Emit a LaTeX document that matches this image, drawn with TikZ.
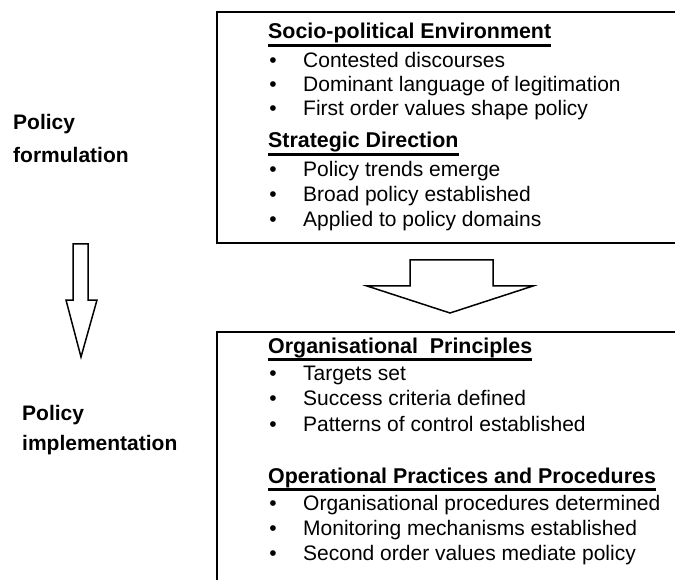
\documentclass[tikz,border=0pt]{standalone}
\usepackage{fontspec}
\setmainfont{Liberation Sans}
\begin{document}
\begin{tikzpicture}[x=1pt,y=-1pt,
  txt/.style={anchor=base west,inner sep=0pt,font=\fontsize{21}{25}\selectfont},
  head/.style={anchor=base west,inner sep=0pt,font=\fontsize{21.4}{25}\selectfont\bfseries},
  bul/.style={anchor=base,inner sep=0pt,font=\fontsize{21}{25}\selectfont},
  side/.style={anchor=base west,inner sep=0pt,font=\fontsize{21}{25}\selectfont\bfseries},
  frame/.style={draw=black,line width=1.8pt},
  uline/.style={line width=3.6pt},
  blockarrow/.style={draw=black,line width=1.5pt,fill=white,line join=miter}]
\useasboundingbox (0,0) rectangle (675,580);

% frames (they run past the right edge)
\draw[frame] (690,12) -- (217,12) -- (217,243) -- (690,243);
\draw[frame] (690,332) -- (217,332) -- (217,600);

% upper frame: policy formulation content
\node[head] (h1) at (268,39) {Socio-political Environment};
\draw[uline] ([yshift=-6.5pt]h1.base west) -- ([yshift=-6.5pt]h1.base east);
\node[bul] (b1) at (273,68) {•};  \node[txt] (t1) at (303,68) {Contested discourses};
\node[bul] (b2) at (273,92) {•};  \node[txt] (t2) at (303,92) {Dominant language of legitimation};
\node[bul] (b3) at (273,116) {•}; \node[txt] (t3) at (303,116) {First order values shape policy};
\node[head] (h2) at (268,148) {Strategic Direction};
\draw[uline] ([yshift=-6.5pt]h2.base west) -- ([yshift=-6.5pt]h2.base east);
\node[bul] (b4) at (273,177) {•}; \node[txt] (t4) at (303,177) {Policy trends emerge};
\node[bul] (b5) at (273,202) {•}; \node[txt] (t5) at (303,202) {Broad policy established};
\node[bul] (b6) at (273,227) {•}; \node[txt] (t6) at (303,227) {Applied to policy domains};

% block arrow between the frames
\draw[blockarrow] (410,260) -- (493,260) -- (493,286) -- (533,286) -- (450,313)
  -- (367,286) -- (410,286) -- cycle;

% lower frame: policy implementation content
\node[head] (h3) at (268,353) {Organisational\ \ Principles};
\draw[uline] ([yshift=-6.5pt]h3.base west) -- ([yshift=-6.5pt]h3.base east);
\node[bul] (b7) at (273,380) {•};  \node[txt] (t7) at (303,380) {Targets set};
\node[bul] (b8) at (273,405) {•};  \node[txt] (t8) at (303,405) {Success criteria defined};
\node[bul] (b9) at (273,431) {•};  \node[txt] (t9) at (303,431) {Patterns of control established};
\node[head] (h4) at (268,483) {Operational Practices and Procedures};
\draw[uline] ([yshift=-6.5pt]h4.base west) -- ([yshift=-6.5pt]h4.base east);
\node[bul] (b10) at (273,510) {•}; \node[txt] (t10) at (303,510) {Organisational procedures determined};
\node[bul] (b11) at (273,535) {•}; \node[txt] (t11) at (303,535) {Monitoring mechanisms established};
\node[bul] (b12) at (273,560) {•}; \node[txt] (t12) at (303,560) {Second order values mediate policy};

% side labels and the downward arrow
\node[side] (f1) at (13,130) {Policy};
\node[side] (f2) at (13,163) {formulation};
\draw[blockarrow] (73,244) -- (88,244) -- (88,300) -- (97,300) -- (81,357)
  -- (66,300) -- (73,300) -- cycle;
\node[side] (i1) at (22,420) {Policy};
\node[side] (i2) at (22,450) {implementation};
\end{tikzpicture}
\end{document}
